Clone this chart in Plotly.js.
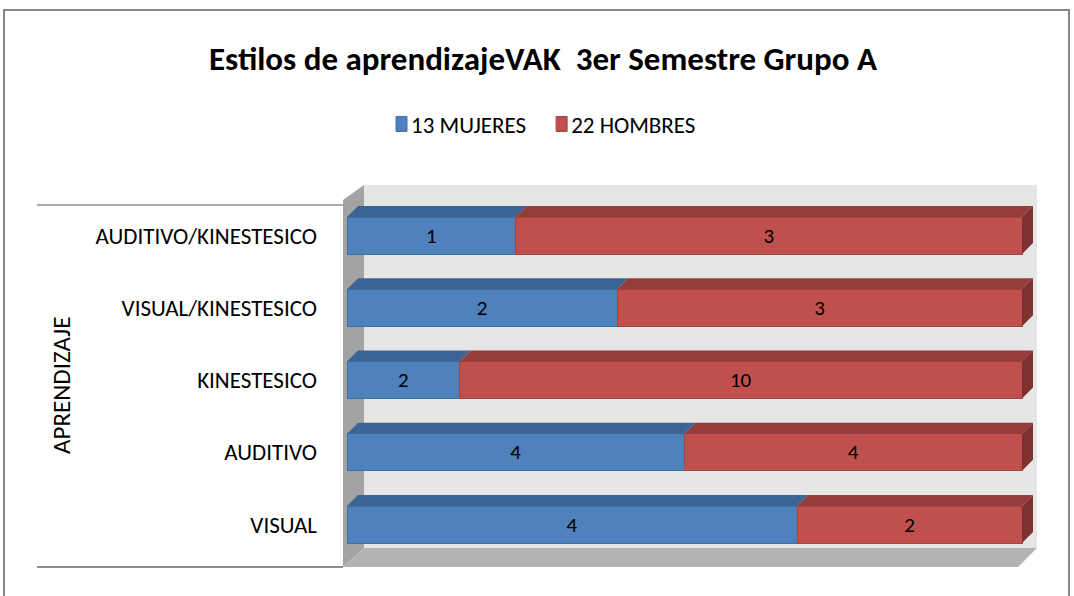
<!DOCTYPE html>
<html>
<head>
<meta charset="utf-8">
<script src="https://cdn.plot.ly/plotly-3.0.1.min.js"></script>
<style>html,body{margin:0;padding:0;background:#fff;}#chart{width:1074px;height:596px;}</style>
</head>
<body>
<div id="chart"></div>
<script>
// ---- data ----
const categories = ['VISUAL', 'AUDITIVO', 'KINESTESICO', 'VISUAL/KINESTESICO', 'AUDITIVO/KINESTESICO'];
const mujeres = [4, 4, 2, 2, 1];
const hombres = [2, 4, 10, 3, 3];
const seriesNames = ['13 MUJERES', '22 HOMBRES'];
const chartTitle = 'Estilos de aprendizajeVAK  3er Semestre Grupo A';
const axisTitle = 'APRENDIZAJE';

// ---- styling ----
const W = 1074, H = 596;
const M = {l: 342, r: 36, t: 185, b: 29};
const FONT = "Carlito, Calibri, 'Open Sans', sans-serif";
const BLUE = '#4F81BD', BLUE_TOP = '#3C6494';
const RED = '#C0504D', RED_TOP = '#943D3B', RED_SIDE = '#7F3130';
const barW = 0.512;   // bar thickness (category units)
const depthX = 1.63;  // 3-D depth along value axis
const depthY = 0.152; // 3-D depth along category axis

const pw = W - M.l - M.r, ph = H - M.t - M.b;
const px = p => (p - M.l) / pw;
const py = p => (H - M.b - p) / ph;

const pos = categories.map((c, i) => i);
const pctM = mujeres.map((m, i) => 100 * m / (m + hombres[i]));

// 3-D faces built from the data
function faces(kind) {
  const xs = [], ys = [];
  pos.forEach((p, i) => {
    const yT = p + barW / 2, yB = p - barW / 2;
    let poly;
    if (kind === 'blueTop') poly = [[0, yT], [pctM[i], yT], [pctM[i] + depthX, yT + depthY], [depthX, yT + depthY]];
    else if (kind === 'redTop') poly = [[pctM[i], yT], [100, yT], [100 + depthX, yT + depthY], [pctM[i] + depthX, yT + depthY]];
    else poly = [[100, yB], [100, yT], [100 + depthX, yT + depthY], [100 + depthX, yB + depthY]];
    poly.forEach(q => { xs.push(q[0]); ys.push(q[1]); });
    xs.push(poly[0][0]); ys.push(poly[0][1]);
    xs.push(null); ys.push(null);
  });
  return {xs, ys};
}
function faceTrace(kind, color) {
  const f = faces(kind);
  return {type: 'scatter', mode: 'lines', x: f.xs, y: f.ys, fill: 'toself', fillcolor: color,
          line: {width: 0, color: color}, showlegend: false, hoverinfo: 'skip'};
}

const traces = [
  {type: 'bar', orientation: 'h', name: seriesNames[0], y: pos, x: mujeres, width: barW,
   text: mujeres.map(String), textposition: 'inside', insidetextanchor: 'middle', textangle: 0,
   constraintext: 'none', textfont: {family: FONT, size: 21, color: '#000'},
   marker: {color: BLUE, line: {color: '#41709F', width: 1}}, hoverinfo: 'skip'},
  {type: 'bar', orientation: 'h', name: seriesNames[1], y: pos, x: hombres, width: barW,
   text: hombres.map(String), textposition: 'inside', insidetextanchor: 'middle', textangle: 0,
   constraintext: 'none', textfont: {family: FONT, size: 21, color: '#000'},
   marker: {color: RED, line: {color: '#A54441', width: 1}}, hoverinfo: 'skip'},
  faceTrace('blueTop', BLUE_TOP),
  faceTrace('redTop', RED_TOP),
  faceTrace('redSide', RED_SIDE)
];

const shapes = [
  // back wall
  {type: 'rect', xref: 'paper', yref: 'paper', x0: px(364), x1: px(1037), y0: py(548), y1: py(185),
   fillcolor: '#E6E6E6', line: {width: 0}, layer: 'below'},
  // left wall
  {type: 'path', xref: 'paper', yref: 'paper', layer: 'below', fillcolor: '#A3A3A3', line: {width: 0},
   path: `M ${px(343)} ${py(200)} L ${px(364)} ${py(185)} L ${px(364)} ${py(548)} L ${px(343)} ${py(567)} Z`},
  // floor
  {type: 'path', xref: 'paper', yref: 'paper', layer: 'below', fillcolor: '#B3B3B3', line: {width: 0},
   path: `M ${px(343)} ${py(567)} L ${px(1018)} ${py(567)} L ${px(1037)} ${py(548)} L ${px(364)} ${py(548)} Z`},
  // category table lines
  {type: 'line', xref: 'paper', yref: 'paper', x0: px(37), x1: px(343), y0: py(205), y1: py(205),
   line: {color: '#8C8C8C', width: 1.5}},
  {type: 'line', xref: 'paper', yref: 'paper', x0: px(37), x1: px(343), y0: py(567), y1: py(567),
   line: {color: '#8C8C8C', width: 2}},
  // outer chart frame
  {type: 'rect', xref: 'paper', yref: 'paper', x0: px(4), x1: px(1069), y0: py(640), y1: py(10),
   line: {color: '#868686', width: 2}, fillcolor: 'rgba(0,0,0,0)'}
];

const layout = {
  width: W, height: H,
  margin: M,
  paper_bgcolor: '#fff', plot_bgcolor: 'rgba(0,0,0,0)',
  barmode: 'stack', barnorm: 'percent',
  font: {family: FONT, color: '#000'},
  title: {text: '<b>' + chartTitle + '</b>', font: {family: FONT, size: 33, color: '#000'},
          x: 543 / W, xref: 'container', xanchor: 'center', y: 1 - 58 / H, yref: 'container', yanchor: 'middle'},
  showlegend: true,
  legend: {orientation: 'h', xref: 'container', yref: 'container', x: 536 / W, xanchor: 'center',
           y: 1 - 124 / H, yanchor: 'middle', font: {family: FONT, size: 23, color: '#000'},
           traceorder: 'normal', itemwidth: 30},
  xaxis: {range: [-5 / 6.75, 100 + 16 / 6.75], showgrid: false, zeroline: false, showticklabels: false,
          ticks: '', showline: false, fixedrange: true},
  yaxis: {range: [-(567 - 524.5) / 72.25, 4 + (235.5 - 185) / 72.25], tickmode: 'array', tickvals: pos,
          ticktext: categories, showgrid: false, zeroline: false, ticks: '', showline: false,
          ticklabelstandoff: 24, tickfont: {family: FONT, size: 23, color: '#000'}, fixedrange: true},
  shapes: shapes,
  annotations: [
    {text: axisTitle, xref: 'paper', yref: 'paper', x: px(61), y: py(386), textangle: -90,
     showarrow: false, xanchor: 'center', yanchor: 'middle', font: {family: FONT, size: 25, color: '#000'}}
  ]
};

Plotly.newPlot('chart', traces, layout, {displayModeBar: false, staticPlot: true}).then(gd => {
  // narrower legend swatches, closer to the text (as in the original)
  gd.querySelectorAll('.legend .legendpoints path').forEach(p => p.setAttribute('d', 'M16,7.5H5V-7.5H16Z'));
});
</script>
</body>
</html>
